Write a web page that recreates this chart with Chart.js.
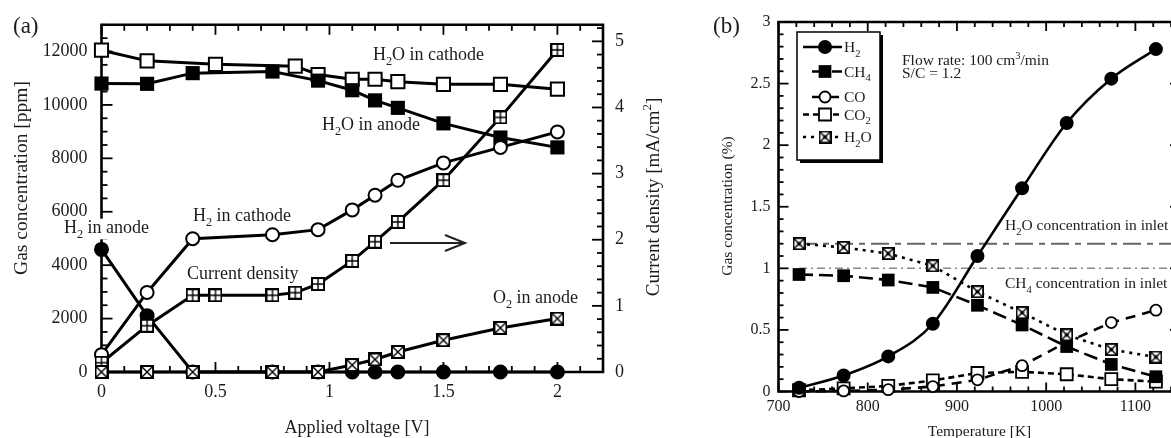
<!DOCTYPE html>
<html><head><meta charset="utf-8">
<script src="https://cdn.jsdelivr.net/npm/chart.js@4.4.1/dist/chart.umd.min.js"></script>
<style>
html,body{margin:0;padding:0;background:#fff;overflow:hidden;width:1171px;height:438px;}
#ca{position:absolute;left:0;top:0;}
#cb{position:absolute;left:700px;top:0;}
</style></head><body>
<canvas id="ca" width="700" height="438"></canvas>
<canvas id="cb" width="540" height="438"></canvas>
<script>
// ---------- Panel (a) data ----------
const voltsMain       = [0, 0.2, 0.4, 0.75, 0.95, 1.1, 1.2, 1.3, 1.5, 1.75, 2.0];
const voltsCathodeH2O = [0, 0.2, 0.5, 0.85, 0.95, 1.1, 1.2, 1.3, 1.5, 1.75, 2.0];
const voltsCurrent    = [0, 0.2, 0.4, 0.5, 0.75, 0.85, 0.95, 1.1, 1.2, 1.3, 1.5, 1.75, 2.0];
const h2oCathode = [12050, 11650, 11520, 11450, 11140, 10960, 10960, 10870, 10770, 10770, 10590];
const h2oAnode   = [10800, 10790, 11190, 11250, 10910, 10550, 10170, 9890, 9310, 8780, 8410];
const h2Cathode  = [650, 2980, 4990, 5140, 5330, 6070, 6620, 7180, 7830, 8410, 8990];
const h2Anode    = [4590, 2110, 0, 0, 0, 0, 0, 0, 0, 0, 0];
const o2Anode    = [0, 0, 0, 0, 0, 260, 470, 750, 1190, 1650, 2000];
const currentDensity = [0.14, 0.70, 1.16, 1.16, 1.16, 1.20, 1.33, 1.68, 1.97, 2.27, 2.90, 3.85, 4.87];
const xTicksA  = [0, 0.5, 1, 1.5, 2];
const yTicksA  = [0, 2000, 4000, 6000, 8000, 10000, 12000];
const y2TicksA = [0, 1, 2, 3, 4, 5];

// ---------- Panel (b) data ----------
const tempsK = [723, 773, 823, 873, 923, 973, 1023, 1073, 1123];
const h2Pct  = [0.03, 0.13, 0.285, 0.55, 1.10, 1.65, 2.18, 2.54, 2.78];
const ch4Pct = [0.95, 0.94, 0.905, 0.845, 0.70, 0.54, 0.365, 0.22, 0.12];
const coPct  = [0.0, 0.005, 0.015, 0.04, 0.095, 0.21, 0.40, 0.56, 0.66];
const co2Pct = [0.01, 0.025, 0.045, 0.09, 0.15, 0.16, 0.14, 0.10, 0.08];
const h2oPct = [1.20, 1.17, 1.12, 1.02, 0.81, 0.64, 0.46, 0.34, 0.28];
const inletTemps = [723, 1150];
const h2oInlet = [1.2, 1.2];
const ch4Inlet = [1.0, 1.0];
const xTicksB = [700, 800, 900, 1000, 1100];
const yTicksB = [0, 0.5, 1, 1.5, 2, 2.5, 3];

// ---------- helpers ----------
const SERIF = '"Liberation Serif","Times New Roman",Times,serif';
const TXT = '#1c1c1c';
Chart.defaults.font.family = SERIF;
Chart.defaults.color = TXT;

function boxMarker(size, kind, lw, inner) {
  const c = document.createElement('canvas');
  c.width = size; c.height = size;
  const g = c.getContext('2d');
  g.fillStyle = '#fff'; g.fillRect(0, 0, size, size);
  g.strokeStyle = '#000'; g.lineWidth = lw;
  g.strokeRect(lw / 2, lw / 2, size - lw, size - lw);
  g.lineWidth = inner;
  g.beginPath();
  if (kind === 'plus') {
    g.moveTo(size / 2, 0); g.lineTo(size / 2, size);
    g.moveTo(0, size / 2); g.lineTo(size, size / 2);
  } else {
    g.moveTo(0, 0); g.lineTo(size, size);
    g.moveTo(size, 0); g.lineTo(0, size);
  }
  g.stroke();
  if (kind === 'crossdot') {
    g.fillStyle = '#000'; g.beginPath(); g.arc(size / 2, size / 2, 2, 0, Math.PI * 2); g.fill();
  }
  return c;
}
const mkPlusA  = boxMarker(14, 'plus', 2, 1.4);
const mkCrossA = boxMarker(14, 'cross', 2, 1.4);
const mkCrossB = boxMarker(13, 'crossdot', 1.8, 1.4);

function pts(xs, ys) { return xs.map((x, i) => ({ x: x, y: ys[i] })); }
function series(label, xs, ys, o) {
  return Object.assign({
    label: label, data: pts(xs, ys), borderColor: '#000', backgroundColor: '#000',
    pointBorderColor: '#000', pointBackgroundColor: '#000', borderWidth: 3, pointBorderWidth: 2,
    tension: 0, fill: false, clip: false
  }, o);
}

function parseRich(s) {
  const parts = []; let buf = ''; let i = 0;
  while (i < s.length) {
    const ch = s[i];
    if ((ch === '_' || ch === '^') && i + 1 < s.length) {
      if (buf) { parts.push({ t: buf, m: 0 }); buf = ''; }
      parts.push({ t: s[i + 1], m: ch === '_' ? 1 : 2 }); i += 2;
    } else { buf += ch; i++; }
  }
  if (buf) parts.push({ t: buf, m: 0 });
  return parts;
}
function drawRich(ctx, str, x, y, size, align, bg) {
  const parts = parseRich(str);
  const small = size * 0.68;
  ctx.save();
  ctx.textBaseline = 'alphabetic'; ctx.textAlign = 'left';
  let w = 0;
  parts.forEach(p => { ctx.font = (p.m ? small : size) + 'px ' + SERIF; p.w = ctx.measureText(p.t).width; w += p.w; });
  let cx = align === 'center' ? x - w / 2 : (align === 'right' ? x - w : x);
  if (bg) {
    ctx.fillStyle = '#fff';
    ctx.fillRect(cx - 2, y - size * 0.8, w + 4, size * 1.15);
  }
  ctx.fillStyle = TXT;
  parts.forEach(p => {
    ctx.font = (p.m ? small : size) + 'px ' + SERIF;
    const dy = p.m === 1 ? size * 0.3 : (p.m === 2 ? -size * 0.38 : 0);
    ctx.fillText(p.t, cx, y + dy);
    cx += p.w;
  });
  ctx.restore();
}
function drawRotated(ctx, str, x, y, size) {
  ctx.save(); ctx.translate(x, y); ctx.rotate(-Math.PI / 2);
  drawRich(ctx, str, 0, 0, size, 'center');
  ctx.restore();
}

function framePlugin(specs, sides, lw) {
  return {
    id: 'frameTicks',
    beforeDatasetsDraw(chart) {
      const ctx = chart.ctx, a = chart.chartArea;
      ctx.save();
      ctx.strokeStyle = '#000'; ctx.lineCap = 'butt';
      ctx.lineWidth = 1.8;
      specs.forEach(s => {
        const sc = chart.scales[s.id];
        const n = Math.round((s.to - s.from) / s.minor);
        for (let k = 0; k <= n; k++) {
          const v = s.from + k * s.minor;
          const r = v / s.major;
          const len = Math.abs(r - Math.round(r)) < 1e-6 ? s.majorLen : s.minorLen;
          const p = sc.getPixelForValue(v);
          ctx.beginPath();
          if (s.side === 'bottom') { ctx.moveTo(p, a.bottom); ctx.lineTo(p, a.bottom - len); }
          else if (s.side === 'top') { ctx.moveTo(p, a.top); ctx.lineTo(p, a.top + len); }
          else if (s.side === 'left') { ctx.moveTo(a.left, p); ctx.lineTo(a.left + len, p); }
          else { ctx.moveTo(a.right, p); ctx.lineTo(a.right - len, p); }
          ctx.stroke();
        }
      });
      ctx.lineWidth = lw; ctx.lineCap = 'square';
      ctx.beginPath();
      if (sides.indexOf('left') >= 0) { ctx.moveTo(a.left, a.top); ctx.lineTo(a.left, a.bottom); }
      if (sides.indexOf('right') >= 0) { ctx.moveTo(a.right, a.top); ctx.lineTo(a.right, a.bottom); }
      if (sides.indexOf('top') >= 0) { ctx.moveTo(a.left, a.top); ctx.lineTo(a.right, a.top); }
      if (sides.indexOf('bottom') >= 0) { ctx.moveTo(a.left, a.bottom); ctx.lineTo(a.right, a.bottom); }
      ctx.stroke();
      ctx.restore();
    }
  };
}

function setTicks(arr) { return function (scale) { scale.ticks = arr.map(v => ({ value: v })); }; }
const noGrid = { display: false, drawTicks: false };
const noBorder = { display: false };

// ---------- Chart (a) ----------
const annA = {
  id: 'annA',
  afterDatasetsDraw(chart) {
    const ctx = chart.ctx;
    drawRich(ctx, 'H_2 in anode', 64, 233, 18, 'left', true);
  },
  afterDraw(chart) {
    const ctx = chart.ctx;
    drawRich(ctx, '(a)', 13, 33, 23, 'left');
    drawRich(ctx, 'H_2O in cathode', 373, 60, 18, 'left');
    drawRich(ctx, 'H_2O in anode', 322, 130, 18, 'left');
    drawRich(ctx, 'H_2 in cathode', 193, 221, 18, 'left');
    drawRich(ctx, 'Current density', 187, 279, 18, 'left');
    drawRich(ctx, 'O_2 in anode', 493, 303, 18, 'left');
    drawRich(ctx, 'Applied voltage [V]', 357, 433, 18, 'center');
    drawRotated(ctx, 'Gas concentration [ppm]', 26.5, 178, 19.5);
    drawRotated(ctx, 'Current density [mA/cm^2]', 658.5, 197, 19);
    // arrow pointing to the right axis
    ctx.save(); ctx.strokeStyle = '#222'; ctx.lineWidth = 2;
    ctx.beginPath(); ctx.moveTo(390, 243); ctx.lineTo(465, 243);
    ctx.moveTo(445, 235); ctx.lineTo(465, 243); ctx.lineTo(445, 251);
    ctx.stroke(); ctx.restore();
  }
};

new Chart(document.getElementById('ca'), {
  type: 'line',
  data: {
    datasets: [
      series('O2 in anode', voltsMain, o2Anode, { yAxisID: 'y', pointStyle: mkCrossA, pointRadius: 7 }),
      series('Current density', voltsCurrent, currentDensity, { yAxisID: 'y2', pointStyle: mkPlusA, pointRadius: 7 }),
      series('H2 in cathode', voltsMain, h2Cathode, { yAxisID: 'y', pointStyle: 'circle', pointRadius: 6.5, pointBackgroundColor: '#fff' }),
      series('H2 in anode', voltsMain, h2Anode, { yAxisID: 'y', pointStyle: 'circle', pointRadius: 6.5 }),
      series('H2O in anode', voltsMain, h2oAnode, { yAxisID: 'y', pointStyle: 'rect', pointRadius: 10, pointBorderWidth: 0 }),
      series('H2O in cathode', voltsCathodeH2O, h2oCathode, { yAxisID: 'y', pointStyle: 'rect', pointRadius: 9.3, pointBackgroundColor: '#fff' })
    ]
  },
  options: {
    responsive: false, animation: false, devicePixelRatio: 1, events: [],
    layout: { padding: { top: 22, right: 0, left: 0, bottom: 0 } },
    plugins: { legend: { display: false }, tooltip: { enabled: false } },
    scales: {
      x: {
        type: 'linear', position: 'bottom', min: 0, max: 2.2,
        afterBuildTicks: setTicks(xTicksA),
        ticks: { callback: v => String(v), font: { size: 18 }, padding: 9, maxRotation: 0, autoSkip: false },
        grid: noGrid, border: noBorder,
        afterFit: s => { s.height = 66; }
      },
      y: {
        type: 'linear', position: 'left', min: 0, max: 13000,
        afterBuildTicks: setTicks(yTicksA),
        ticks: { callback: v => String(v), font: { size: 18 }, padding: 14, autoSkip: false },
        grid: noGrid, border: noBorder,
        afterFit: s => { s.width = 101.5; }
      },
      y2: {
        type: 'linear', position: 'right', min: 0, max: 5.25,
        afterBuildTicks: setTicks(y2TicksA),
        ticks: { callback: v => String(v), font: { size: 18 }, padding: 12, autoSkip: false },
        grid: noGrid, border: noBorder,
        afterFit: s => { s.width = 97; }
      }
    }
  },
  plugins: [
    framePlugin([
      { id: 'x', side: 'bottom', from: 0, to: 2.2, major: 0.5, minor: 0.1, majorLen: 10, minorLen: 6 },
      { id: 'x', side: 'top', from: 0, to: 2.2, major: 0.5, minor: 0.1, majorLen: 10, minorLen: 6 },
      { id: 'y', side: 'left', from: 0, to: 13000, major: 2000, minor: 500, majorLen: 11, minorLen: 6 },
      { id: 'y2', side: 'right', from: 0, to: 5.2, major: 1, minor: 0.2, majorLen: 11, minorLen: 6 }
    ], ['left', 'right', 'top', 'bottom'], 2.6),
    annA
  ]
});

// ---------- Chart (b) ----------
const legendB = {
  id: 'legendB',
  afterDraw(chart) {
    const ctx = chart.ctx;
    const ds = chart.data.datasets;
    ctx.save();
    ctx.fillStyle = '#000'; ctx.fillRect(100, 35, 83, 128);
    ctx.fillStyle = '#fff'; ctx.fillRect(97, 32, 83, 128);
    ctx.strokeStyle = '#000'; ctx.lineWidth = 1.5; ctx.strokeRect(97, 32, 83, 128);
    ctx.restore();
    const items = [
      { i: 0, text: 'H_2', y: 47, x1: 103, x2: 142 },
      { i: 1, text: 'CH_4', y: 71.5, x1: 112, x2: 142 },
      { i: 3, text: 'CO', y: 97, x1: 112, x2: 142 },
      { i: 4, text: 'CO_2', y: 114.5, x1: 103, x2: 143 },
      { i: 2, text: 'H_2O', y: 137, x1: 103, x2: 143 }
    ];
    items.forEach(it => {
      const d = ds[it.i];
      ctx.save();
      ctx.strokeStyle = '#000'; ctx.lineWidth = d.borderWidth;
      ctx.setLineDash(d.borderDash || []);
      ctx.beginPath(); ctx.moveTo(it.x1, it.y); ctx.lineTo(it.x2, it.y); ctx.stroke();
      ctx.setLineDash([]);
      ctx.fillStyle = d.pointBackgroundColor; ctx.strokeStyle = '#000'; ctx.lineWidth = d.pointBorderWidth;
      Chart.helpers.drawPoint(ctx, { pointStyle: d.pointStyle, radius: d.pointRadius, rotation: 0, borderWidth: d.pointBorderWidth }, 125, it.y);
      ctx.restore();
      drawRich(ctx, it.text, 144, it.y + 5, 15.5, 'left');
    });
  }
};
const annB = {
  id: 'annB',
  afterDraw(chart) {
    const ctx = chart.ctx;
    drawRich(ctx, '(b)', 13, 33, 23, 'left');
    drawRich(ctx, 'Flow rate: 100 cm^3/min', 202, 65, 15.5, 'left');
    drawRich(ctx, 'S/C = 1.2', 202, 78, 15.5, 'left');
    drawRich(ctx, 'H_2O concentration in inlet', 305, 230, 15.5, 'left');
    drawRich(ctx, 'CH_4 concentration in inlet', 305, 288, 15.5, 'left');
    drawRich(ctx, 'Temperature [K]', 279.5, 436, 15.5, 'center');
    drawRotated(ctx, 'Gas concentration (%)', 32, 206, 15.5);
  }
};

new Chart(document.getElementById('cb'), {
  type: 'line',
  data: {
    datasets: [
      series('H2', tempsK, h2Pct, { pointStyle: 'circle', pointRadius: 6, cubicInterpolationMode: 'monotone', borderWidth: 2.6 }),
      series('CH4', tempsK, ch4Pct, { pointStyle: 'rect', pointRadius: 9, pointBorderWidth: 0, borderDash: [14, 6], borderWidth: 2.6 }),
      series('H2O', tempsK, h2oPct, { pointStyle: mkCrossB, pointRadius: 6.5, pointBorderWidth: 1.8, pointBackgroundColor: '#fff', borderDash: [3, 5], borderWidth: 2.6 }),
      series('CO', tempsK, coPct, { pointStyle: 'circle', pointRadius: 5.5, pointBackgroundColor: '#fff', pointBorderWidth: 1.8, borderDash: [10, 7], borderWidth: 2.6 }),
      series('CO2', tempsK, co2Pct, { pointStyle: 'rect', pointRadius: 8.5, pointBackgroundColor: '#fff', pointBorderWidth: 1.8, borderDash: [6, 4], borderWidth: 2.6 }),
      series('H2O inlet', inletTemps, h2oInlet, { pointRadius: 0, borderColor: '#666', borderWidth: 2, borderDash: [18, 6, 6, 6] }),
      series('CH4 inlet', inletTemps, ch4Inlet, { pointRadius: 0, borderColor: '#888', borderWidth: 1.5, borderDash: [8, 4, 2, 4] })
    ]
  },
  options: {
    responsive: false, animation: false, devicePixelRatio: 1, events: [],
    layout: { padding: { top: 22, right: 60, left: 0, bottom: 0 } },
    plugins: { legend: { display: false }, tooltip: { enabled: false } },
    scales: {
      x: {
        type: 'linear', position: 'bottom', min: 700, max: 1150,
        afterBuildTicks: setTicks(xTicksB),
        ticks: { callback: v => String(v), font: { size: 16 }, padding: 6, maxRotation: 0, autoSkip: false },
        grid: noGrid, border: noBorder,
        afterFit: s => { s.height = 46.5; }
      },
      y: {
        type: 'linear', position: 'left', min: 0, max: 3,
        afterBuildTicks: setTicks(yTicksB),
        ticks: { callback: v => String(v), font: { size: 16 }, padding: 8, autoSkip: false },
        grid: noGrid, border: noBorder,
        afterFit: s => { s.width = 78.5; }
      }
    }
  },
  plugins: [
    framePlugin([
      { id: 'x', side: 'bottom', from: 700, to: 1150, major: 100, minor: 20, majorLen: 9, minorLen: 5 },
      { id: 'x', side: 'top', from: 700, to: 1150, major: 100, minor: 20, majorLen: 9, minorLen: 5 },
      { id: 'y', side: 'left', from: 0, to: 3, major: 0.5, minor: 0.1, majorLen: 10, minorLen: 5 },
      { id: 'y', side: 'right', from: 0, to: 3, major: 0.5, minor: 0.1, majorLen: 10, minorLen: 5 }
    ], ['left', 'right', 'top', 'bottom'], 2.6),
    annB, legendB
  ]
});
</script>
</body></html>
